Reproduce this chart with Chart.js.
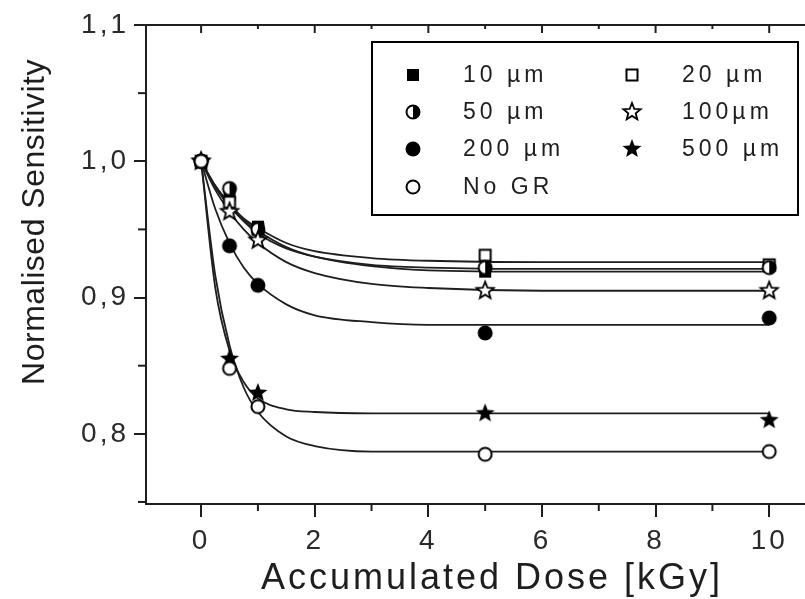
<!DOCTYPE html>
<html>
<head>
<meta charset="utf-8">
<script src="https://cdn.jsdelivr.net/npm/chart.js@4"></script>
<style>
  body { margin: 0; background: #fff; }
</style>
</head>
<body>
<canvas id="sensChart" width="805" height="599"></canvas>
<script>
// 線量 [kGy]
const doses = [0, 0.5, 1, 5, 10];
// 系列名
const names = ['10 µm', '20 µm', '50 µm', '100µm', '200 µm', '500 µm', 'No GR'];
// 測定値（規格化感度）
const sens10 = [1.000, 0.975, 0.952, 0.919, 0.923];
const sens20 = [1.000, 0.970, 0.950, 0.931, 0.924];
const sens50 = [1.000, 0.980, 0.950, 0.922, 0.922];
const sens100 = [1.000, 0.963, 0.942, 0.905, 0.905];
const sens200 = [1.000, 0.938, 0.909, 0.874, 0.885];
const sens500 = [1.000, 0.855, 0.830, 0.815, 0.810];
const sensNoGR = [1.000, 0.848, 0.820, 0.785, 0.787];

// フィット曲線
const fitX = [0, 0.25, 0.5, 0.75, 1, 1.5, 2, 3, 4, 6, 10];
const fit10 = [1.000, 0.981, 0.967, 0.956, 0.947, 0.936, 0.930, 0.924, 0.922, 0.921, 0.921];
const fit20 = [1.000, 0.982, 0.969, 0.958, 0.951, 0.940, 0.934, 0.929, 0.927, 0.926, 0.926];
const fit50 = [1.000, 0.982, 0.968, 0.957, 0.949, 0.937, 0.930, 0.923, 0.920, 0.919, 0.919];
const fit100 = [1.000, 0.979, 0.963, 0.950, 0.940, 0.926, 0.918, 0.910, 0.907, 0.905, 0.905];
const fit200 = [1.000, 0.965, 0.940, 0.922, 0.910, 0.895, 0.887, 0.882, 0.880, 0.880, 0.880];
const fit500 = [1.000, 0.907, 0.861, 0.838, 0.826, 0.818, 0.816, 0.815, 0.815, 0.815, 0.815];
const fitNoGR = [1.000, 0.916, 0.865, 0.834, 0.816, 0.798, 0.791, 0.787, 0.787, 0.787, 0.787];

// 目盛り
const xTicks = [0, 2, 4, 6, 8, 10];
const xMinor = [1, 3, 5, 7, 9];
const yTicks = [0.8, 0.9, 1.0, 1.1];
const yMinor = [0.75, 0.85, 0.95, 1.05];

const FONT = "'Liberation Sans', Arial, sans-serif";
const INK = '#1e1e1e';

// 星形のパス
function starPath(g, ro, ri) {
    g.beginPath();
    for (let i = 0; i < 10; i++) {
        const r = i % 2 ? ri : ro;
        const a = -Math.PI / 2 + i * Math.PI / 5;
        g.lineTo(r * Math.cos(a), r * Math.sin(a));
    }
    g.closePath();
}

// マーカー画像を作る関数
function makeMarker(kind) {
    const c = document.createElement('canvas');
    c.width = 24;
    c.height = 24;
    const g = c.getContext('2d');
    g.translate(12, 12);
    g.lineWidth = 2;
    g.strokeStyle = '#000';
    g.fillStyle = '#000';
    if (kind === 'filledSquare') {
        g.fillRect(-6, -6, 12, 12);
    } else if (kind === 'openSquare') {
        g.fillStyle = '#fff';
        g.fillRect(-5.5, -5.5, 11, 11);
        g.strokeRect(-5.5, -5.5, 11, 11);
    } else if (kind === 'halfCircle') {
        g.beginPath();
        g.arc(0, 0, 6.5, 0, Math.PI * 2);
        g.fillStyle = '#fff';
        g.fill();
        g.stroke();
        g.beginPath();
        g.arc(0, 0, 7, -Math.PI / 2, Math.PI / 2);
        g.closePath();
        g.fillStyle = '#000';
        g.fill();
    } else if (kind === 'openStar') {
        starPath(g, 9, 3.9);
        g.fillStyle = '#fff';
        g.fill();
        g.lineWidth = 1.8;
        g.stroke();
    } else if (kind === 'filledCircle') {
        g.beginPath();
        g.arc(0, 0, 7.5, 0, Math.PI * 2);
        g.fill();
    } else if (kind === 'filledStar') {
        starPath(g, 10, 4.3);
        g.fill();
    } else if (kind === 'openCircle') {
        g.beginPath();
        g.arc(0, 0, 6.5, 0, Math.PI * 2);
        g.fillStyle = '#fff';
        g.fill();
        g.stroke();
    }
    return c;
}

// 系列の定義（凡例の並び順）
const series = [
    { label: names[0], values: sens10, fit: fit10, marker: makeMarker('filledSquare') },
    { label: names[1], values: sens20, fit: fit20, marker: makeMarker('openSquare') },
    { label: names[2], values: sens50, fit: fit50, marker: makeMarker('halfCircle') },
    { label: names[3], values: sens100, fit: fit100, marker: makeMarker('openStar') },
    { label: names[4], values: sens200, fit: fit200, marker: makeMarker('filledCircle') },
    { label: names[5], values: sens500, fit: fit500, marker: makeMarker('filledStar') },
    { label: names[6], values: sensNoGR, fit: fitNoGR, marker: makeMarker('openCircle') }
];

function toPoints(xs, ys) {
    return xs.map((x, i) => ({ x: x, y: ys[i] }));
}

// データセットを組み立てる
const datasets = [];
series.forEach(function(s, i) {
    // フィット曲線（下に描く）
    datasets.push({
        type: 'line',
        label: s.label + ' fit',
        data: toPoints(fitX, s.fit),
        borderColor: INK,
        borderWidth: 1.8,
        pointRadius: 0,
        cubicInterpolationMode: 'monotone',
        fill: false,
        order: 10
    });
    // 測定点（No GR を一番上に）
    datasets.push({
        type: 'scatter',
        label: s.label,
        data: toPoints(doses, s.values),
        pointStyle: s.marker,
        pointRadius: 10,
        order: 1 + (series.length - i)
    });
});

// 文字間隔を設定する
const spacingPlugin = {
    id: 'spacing',
    beforeDraw(chart) {
        chart.ctx.letterSpacing = '3px';
    }
};

// 上側の軸線・副目盛り・軸タイトル・凡例を描く
const decorPlugin = {
    id: 'decor',
    afterDraw(chart) {
        const ctx = chart.ctx;
        const a = chart.chartArea;
        const xs = chart.scales.x;
        const ys = chart.scales.y;
        ctx.save();
        ctx.strokeStyle = INK;
        ctx.lineWidth = 2;
        // 上の軸線
        ctx.beginPath();
        ctx.moveTo(a.left, a.top);
        ctx.lineTo(a.right, a.top);
        ctx.stroke();
        // 上の目盛り（内向き）
        xTicks.forEach(function(v) {
            const px = xs.getPixelForValue(v);
            ctx.beginPath();
            ctx.moveTo(px, a.top);
            ctx.lineTo(px, a.top + 8);
            ctx.stroke();
        });
        xMinor.forEach(function(v) {
            const px = xs.getPixelForValue(v);
            ctx.beginPath();
            ctx.moveTo(px, a.top);
            ctx.lineTo(px, a.top + 4);
            ctx.stroke();
            // 下の副目盛り
            ctx.beginPath();
            ctx.moveTo(px, a.bottom);
            ctx.lineTo(px, a.bottom + 7);
            ctx.stroke();
        });
        yMinor.forEach(function(v) {
            const py = ys.getPixelForValue(v);
            ctx.beginPath();
            ctx.moveTo(a.left, py);
            ctx.lineTo(a.left - 8, py);
            ctx.stroke();
        });

        // 軸タイトル
        ctx.fillStyle = INK;
        ctx.textAlign = 'center';
        ctx.textBaseline = 'middle';
        ctx.letterSpacing = '3px';
        ctx.font = '36px ' + FONT;
        ctx.fillText('Accumulated Dose [kGy]', 492, 579);
        ctx.save();
        ctx.translate(35, 222);
        ctx.rotate(-Math.PI / 2);
        ctx.letterSpacing = '0.5px';
        ctx.font = '32px ' + FONT;
        ctx.fillText('Normalised Sensitivity', 0, 0);
        ctx.restore();

        // 凡例の枠
        ctx.fillStyle = '#fff';
        ctx.fillRect(372, 42, 426, 173);
        ctx.strokeStyle = '#000';
        ctx.strokeRect(372, 42, 426, 173);
        ctx.fillStyle = INK;
        ctx.textAlign = 'left';
        ctx.letterSpacing = '4px';
        ctx.font = '23px ' + FONT;
        const colMarker = [413, 632];
        const colText = [463, 682];
        const rowY = [75, 112, 149, 187];
        series.forEach(function(s, i) {
            const col = i % 2;
            const row = Math.floor(i / 2);
            const img = s.marker;
            ctx.drawImage(img, colMarker[col] - img.width / 2, rowY[row] - img.height / 2);
            ctx.fillText(s.label, colText[col], rowY[row] + 1);
        });
        ctx.restore();
    }
};

const ctx = document.getElementById('sensChart').getContext('2d');
window.myChart = new Chart(ctx, {
    type: 'scatter',
    data: { datasets: datasets },
    options: {
        responsive: false,
        animation: false,
        layout: { autoPadding: false, padding: { top: 25, right: 0, left: 0, bottom: 0 } },
        plugins: {
            legend: { display: false },
            tooltip: { enabled: false }
        },
        scales: {
            x: {
                type: 'linear',
                min: -0.97,
                max: 10.63,
                afterBuildTicks: s => { s.ticks = xTicks.map(v => ({ value: v })); },
                afterFit: s => { s.height = 95; s.paddingLeft = 0; s.paddingRight = 0; },
                grid: { drawOnChartArea: false, tickLength: 13, color: INK, lineWidth: 2 },
                border: { display: true, color: INK, width: 2 },
                ticks: {
                    padding: 7,
                    color: '#2a2a2a',
                    font: { family: FONT, size: 28 },
                    maxRotation: 0,
                    callback: v => String(v)
                }
            },
            y: {
                type: 'linear',
                min: 0.7485,
                max: 1.1,
                afterBuildTicks: s => { s.ticks = yTicks.map(v => ({ value: v })); },
                afterFit: s => { s.width = 146; s.paddingTop = 0; s.paddingBottom = 0; },
                grid: { drawOnChartArea: false, tickLength: 12, color: INK, lineWidth: 2 },
                border: { display: true, color: INK, width: 2 },
                ticks: {
                    padding: 5,
                    color: '#2a2a2a',
                    font: { family: FONT, size: 28 },
                    callback: v => v.toFixed(1).replace('.', ',')
                }
            }
        }
    },
    plugins: [spacingPlugin, decorPlugin]
});
</script>
</body>
</html>
